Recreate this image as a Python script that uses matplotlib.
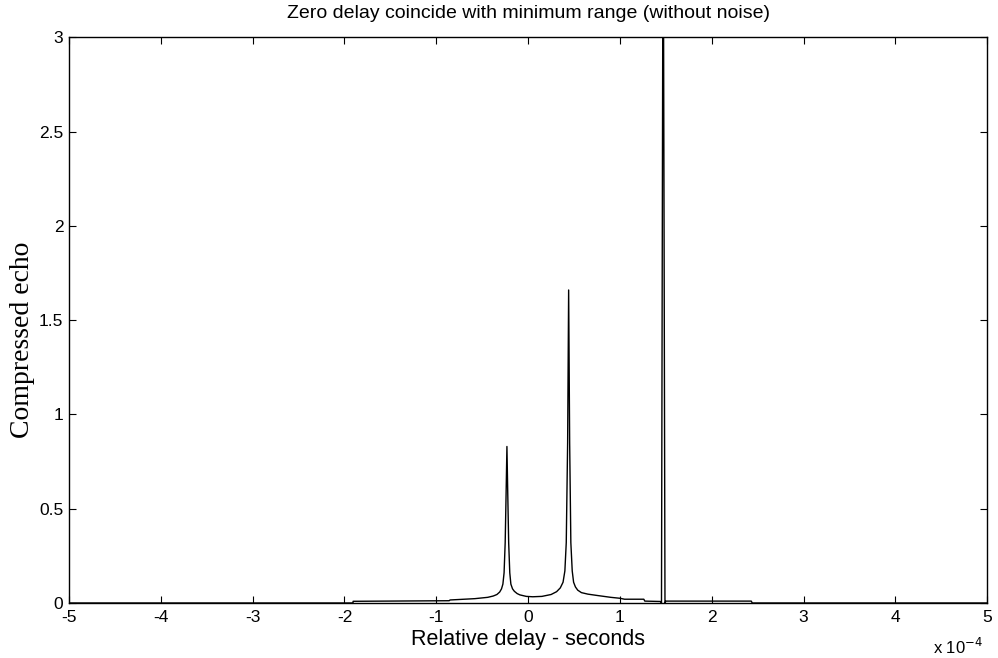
import matplotlib
matplotlib.use("Agg")
import matplotlib.pyplot as plt
from matplotlib.ticker import FuncFormatter, MultipleLocator

# relative delay (x 1e-4 s) and compressed echo amplitude
delay = [
    -5.0, -1.907, -1.906, -0.86, -0.85, -0.58, -0.44, -0.38, -0.34, -0.31,
    -0.29, -0.275, -0.262, -0.25, -0.24, -0.231, -0.222, -0.212, -0.20, -0.188,
    -0.17, -0.15, -0.12, -0.09, -0.02, 0.05, 0.15, 0.25, 0.31, 0.35,
    0.38, 0.40, 0.415, 0.43, 0.441, 0.452, 0.465, 0.48, 0.495, 0.515,
    0.54, 0.58, 0.65, 0.75, 0.90, 1.00, 1.05, 1.26, 1.27, 1.44,
    1.452, 1.47, 1.49, 1.50, 2.43, 2.44, 5.0,
]
delay = [d * 1e-4 for d in delay]
echo = [
    0.0, 0.0, 0.009, 0.012, 0.016, 0.023, 0.03, 0.037, 0.045, 0.058,
    0.075, 0.1, 0.16, 0.32, 0.58, 0.83, 0.58, 0.32, 0.16, 0.1,
    0.075, 0.062, 0.05, 0.043, 0.035, 0.033, 0.035, 0.045, 0.06, 0.08,
    0.11, 0.17, 0.32, 0.85, 1.66, 0.85, 0.32, 0.17, 0.11, 0.085,
    0.068, 0.055, 0.047, 0.04, 0.03, 0.025, 0.02, 0.02, 0.01, 0.008,
    0.0, 4.0, 0.0, 0.01, 0.01, 0.0, 0.0,
]

sans = "Liberation Sans"
fig = plt.figure(figsize=(9.98, 6.58), dpi=100)
ax = fig.add_axes([0.0691, 0.0836, 0.9202, 0.8597])

ax.plot(delay, echo, color="black", linewidth=1.0)

ax.set_xlim(-5e-4, 5e-4)
ax.set_ylim(0, 3)
ax.xaxis.set_major_locator(MultipleLocator(1e-4))
ax.yaxis.set_major_locator(MultipleLocator(0.5))
ax.xaxis.set_major_formatter(FuncFormatter(lambda v, p: "%g" % round(v / 1e-4, 6)))
ax.yaxis.set_major_formatter(FuncFormatter(lambda v, p: "%g" % v))
ax.tick_params(direction="in", top=True, right=True, length=5, width=0.8,
               labelsize=12.5)
ax.tick_params(axis="x", pad=5)
ax.tick_params(axis="y", pad=4)
for lab in ax.get_xticklabels() + ax.get_yticklabels():
    lab.set_fontfamily(sans)
for s in ax.spines.values():
    s.set_linewidth(1.0)

ax.set_title("Zero delay coincide with minimum range (without noise)",
             fontsize=14, family=sans, pad=14)
ax.set_xlabel("Relative delay - seconds", fontsize=15.5, family=sans, labelpad=3)
ax.set_ylabel("Compressed echo", fontsize=20, family="Liberation Serif")
ax.yaxis.set_label_coords(-0.037, 0.465)
fig.text(0.935, 0.006, r"x 10$^{-4}$", fontsize=12, family=sans)

fig.savefig("out.png", dpi=100)
